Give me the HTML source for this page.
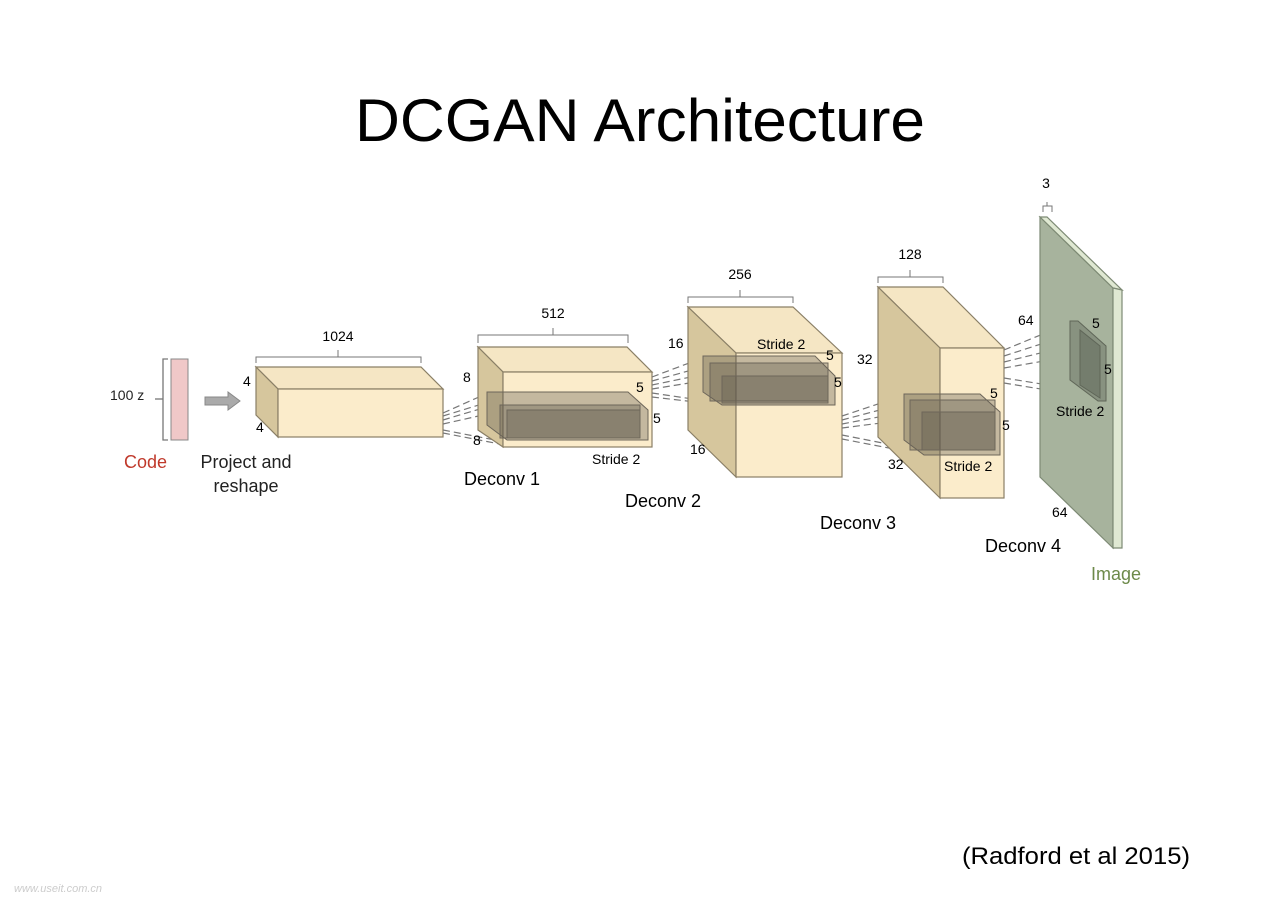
<!DOCTYPE html>
<html><head><meta charset="utf-8"><style>
html,body{margin:0;padding:0;background:#fff;}
svg{display:block;}
text{font-family:"Liberation Sans",sans-serif;}
</style></head><body>
<svg width="1280" height="904" viewBox="0 0 1280 904" xmlns="http://www.w3.org/2000/svg">
<rect width="1280" height="904" fill="#fff"/>
<text x="640" y="141" font-size="60" text-anchor="middle" textLength="570" lengthAdjust="spacingAndGlyphs" fill="#000">DCGAN Architecture</text>

<g stroke="#777" stroke-width="1.3" fill="none">
<!-- code bracket -->
<path d="M168,359 H163 V440 H168"/>
<path d="M155,399 H163"/>
</g>
<rect x="171" y="359" width="17" height="81" fill="#f0c8c8" stroke="#888"/>
<text x="110" y="400" font-size="14" fill="#222">100 z</text>
<path d="M205,397 H228 V392 L240,401 L228,410 V405 H205 Z" fill="#aaa" stroke="#888"/>
<text x="124" y="468" font-size="18" fill="#c0392b">Code</text>
<text x="246" y="468" font-size="18" text-anchor="middle" fill="#222">Project and</text>
<text x="246" y="492" font-size="18" text-anchor="middle" fill="#222">reshape</text>

<!-- Box1 -->
<g stroke="#8a7f66" stroke-width="1.2">
<polygon points="256,367 421,367 443,389 278,389" fill="#f5e6c4"/>
<polygon points="256,367 278,389 278,437 256,415" fill="#d6c69d"/>
<rect x="278" y="389" width="165" height="48" fill="#fbeccb"/>
</g>
<path d="M256,363 V357 H421 V363 M338,357 V350" stroke="#777" fill="none"/>
<text x="338" y="341" font-size="14" text-anchor="middle">1024</text>
<text x="243" y="386" font-size="14">4</text>
<text x="256" y="432" font-size="14">4</text>

<!-- dashed lines box1->box2 -->
<g stroke="#777" stroke-dasharray="7,4" stroke-width="1.2">
<path d="M443,413 L488,393 M443,416 L495,400 M443,420 L500,403 M443,424 L505,410 M443,430 L495,440 M443,433 L505,445"/>
</g>

<!-- Box2 -->
<g stroke="#8a7f66" stroke-width="1.2">
<polygon points="478,347 627,347 652,372 503,372" fill="#f5e6c4"/>
<polygon points="478,347 503,372 503,447 478,430" fill="#d6c69d"/>
<rect x="503" y="372" width="149" height="75" fill="#fbeccb"/>
</g>
<g stroke="#6d665a" stroke-width="1" fill="rgba(95,88,78,0.35)">
<polygon points="487,392 628,392 648,410 648,440 507,440 487,425"/>
<rect x="500" y="405" width="140" height="33"/>
<rect x="507" y="410" width="133" height="28"/>
</g>
<path d="M478,343 V335 H628 V343 M553,335 V328" stroke="#777" fill="none"/>
<text x="553" y="318" font-size="14" text-anchor="middle">512</text>
<text x="463" y="382" font-size="14">8</text>
<text x="473" y="445" font-size="14">8</text>
<text x="636" y="392" font-size="14">5</text>
<text x="653" y="423" font-size="14">5</text>
<text x="592" y="464" font-size="14">Stride 2</text>
<text x="464" y="485" font-size="18">Deconv 1</text>

<!-- dashed box2->box3 -->
<g stroke="#777" stroke-dasharray="7,4" stroke-width="1.2">
<path d="M652,377 L705,357 M652,381 L710,365 M652,385 L715,372 M652,389 L720,378 M652,393 L713,402 M652,397 L722,405"/>
</g>

<!-- Box3 -->
<g stroke="#8a7f66" stroke-width="1.2">
<polygon points="688,307 793,307 842,353 736,353" fill="#f5e6c4"/>
<polygon points="688,307 736,353 736,477 688,430" fill="#d6c69d"/>
<rect x="736" y="353" width="106" height="124" fill="#fbeccb"/>
</g>
<g stroke="#6d665a" stroke-width="1" fill="rgba(95,88,78,0.35)">
<polygon points="703,356 815,356 835,376 835,405 722,405 703,392"/>
<rect x="710" y="363" width="118" height="38"/>
<rect x="722" y="376" width="106" height="27"/>
</g>
<path d="M688,303 V297 H793 V303 M740,297 V290" stroke="#777" fill="none"/>
<text x="740" y="279" font-size="14" text-anchor="middle">256</text>
<text x="668" y="348" font-size="14">16</text>
<text x="690" y="454" font-size="14">16</text>
<text x="757" y="349" font-size="14">Stride 2</text>
<text x="826" y="360" font-size="14">5</text>
<text x="834" y="387" font-size="14">5</text>
<text x="625" y="507" font-size="18">Deconv 2</text>

<!-- dashed box3->box4 -->
<g stroke="#777" stroke-dasharray="7,4" stroke-width="1.2">
<path d="M842,416 L905,395 M842,420 L910,402 M842,424 L915,410 M842,428 L920,418 M842,435 L918,450 M842,439 L925,455"/>
</g>

<!-- Box4 -->
<g stroke="#8a7f66" stroke-width="1.2">
<polygon points="878,287 943,287 1004,348 940,348" fill="#f5e6c4"/>
<polygon points="878,287 940,348 940,498 878,437" fill="#d6c69d"/>
<rect x="940" y="348" width="64" height="150" fill="#fbeccb"/>
</g>
<g stroke="#6d665a" stroke-width="1" fill="rgba(95,88,78,0.35)">
<polygon points="904,394 980,394 1000,412 1000,455 924,455 904,440"/>
<rect x="910" y="400" width="85" height="50"/>
<rect x="922" y="412" width="73" height="38"/>
</g>
<path d="M878,283 V277 H943 V283 M910,277 V270" stroke="#777" fill="none"/>
<text x="910" y="259" font-size="14" text-anchor="middle">128</text>
<text x="857" y="364" font-size="14">32</text>
<text x="888" y="469" font-size="14">32</text>
<text x="990" y="398" font-size="14">5</text>
<text x="1002" y="430" font-size="14">5</text>
<text x="944" y="471" font-size="14">Stride 2</text>
<text x="820" y="529" font-size="18">Deconv 3</text>

<!-- dashed box4->image -->
<g stroke="#777" stroke-dasharray="7,4" stroke-width="1.2">
<path d="M1004,350 L1072,322 M1004,356 L1078,332 M1004,362 L1085,342 M1004,368 L1095,352 M1004,378 L1098,393 M1004,383 L1108,400"/>
</g>

<!-- Image plane -->
<g stroke="#7d8a74" stroke-width="1.2">
<polygon points="1040,217 1113,288 1113,548 1040,477" fill="#a7b39d"/>
<polygon points="1040,217 1047,217 1122,290 1113,288" fill="#dfe8d2"/>
<polygon points="1113,288 1122,290 1122,548 1113,548" fill="#dfe8d2"/>
</g>
<g stroke="#5f6658" stroke-width="1" fill="rgba(80,85,75,0.35)">
<polygon points="1070,321 1078,321 1106,346 1106,401 1098,401 1070,380"/>
<polygon points="1080,330 1100,346 1100,398 1080,385"/>
</g>
<path d="M1043,212 V206 H1052 V212 M1047,206 V202" stroke="#777" fill="none"/>
<text x="1046" y="188" font-size="14" text-anchor="middle">3</text>
<text x="1018" y="325" font-size="14">64</text>
<text x="1092" y="328" font-size="14">5</text>
<text x="1104" y="374" font-size="14">5</text>
<text x="1056" y="416" font-size="14">Stride 2</text>
<text x="1052" y="517" font-size="14">64</text>
<text x="985" y="552" font-size="18">Deconv 4</text>
<text x="1091" y="580" font-size="18" fill="#6d8a4a">Image</text>

<text x="962" y="864" font-size="24" textLength="228" lengthAdjust="spacingAndGlyphs">(Radford et al 2015)</text>
<text x="14" y="892" font-size="11" font-style="italic" fill="#ccc">www.useit.com.cn</text>
</svg>
</body></html>
